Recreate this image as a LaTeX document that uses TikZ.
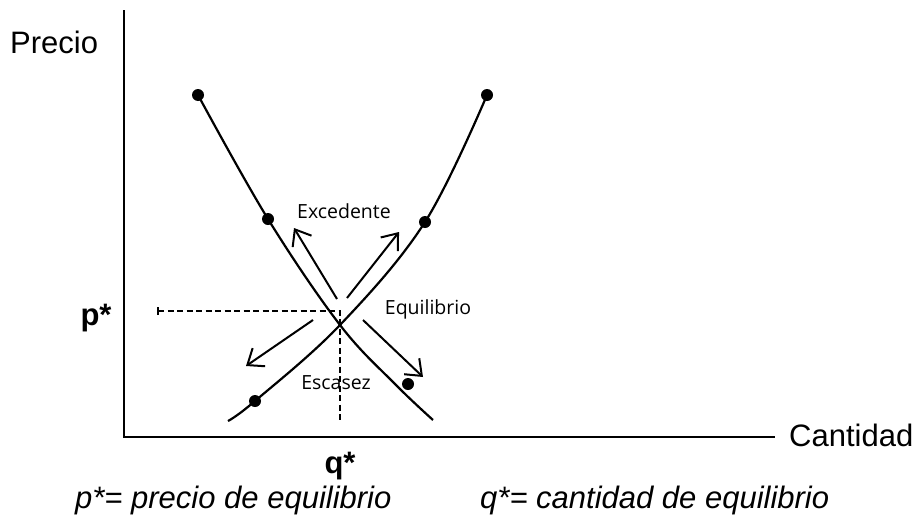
\documentclass[tikz,border=0pt]{standalone}
\usepackage{fontspec}
\setmainfont{Liberation Sans}
\newfontfamily\lblfont{Open Sans}
\usepackage{tikz}
\usetikzlibrary{positioning}
\usetikzlibrary{arrows.meta}

\begin{document}
\begin{tikzpicture}[x=1pt,y=-1pt,
        axislabel/.style={font=\fontsize{31}{36}\selectfont, inner sep=0pt},
        starlabel/.style={font=\fontsize{31}{36}\selectfont\bfseries, inner sep=0pt},
        notelabel/.style={font=\fontsize{31}{36}\selectfont\itshape, inner sep=0pt, anchor=west},
        zonelabel/.style={font=\lblfont\fontsize{19.5}{22}\selectfont, inner sep=1pt},
        dot/.style={circle, fill=black, inner sep=0pt, minimum size=12pt},
        curve/.style={line width=2.2pt},
        moveArrow/.style={line width=2pt, -{Straight Barb[length=14pt,width=22pt,line width=2pt]}},
        guide/.style={line width=1.6pt, dash pattern=on 6pt off 3.5pt},
    ]
        \useasboundingbox (0,0) rectangle (918,525);

        %Nodes
        \coordinate (origin) at (124,437);
        \coordinate (ytop) at (124,10);
        \coordinate (xend) at (775,437);

        \node[axislabel, anchor=west] (precio) at (10,42) {Precio};
        \node[axislabel, anchor=west] (cantidad) at (789,435) {Cantidad};
        \node[starlabel] (pstar) at (96,318) {p*};
        \node[starlabel] (qstar) at (340,466) {q*};

        \node[dot] (d1) at (198,95) {};
        \node[dot] (d2) at (268,219) {};
        \node[dot] (s1) at (487,95) {};
        \node[dot] (s2) at (425,222) {};
        \node[dot] (s3) at (255,401) {};
        \node[dot] (loose) at (408,384) {};
        \coordinate (eq) at (340,325);
        \coordinate (dend) at (433,420);
        \coordinate (send) at (228,421);

        \coordinate (ptick) at (158,311);
        \coordinate (qfoot) at (340,420);

        \node[zonelabel] (excedente) at (344,211) {Excedente};
        \node[zonelabel] (equilibrio) at (428,309) {Equilibrio};
        \node[zonelabel] (escasez) at (336,383) {Escasez};

        \coordinate (a1) at (337,299);
        \coordinate (a1tip) at (294,228);
        \coordinate (a2) at (347,298);
        \coordinate (a2tip) at (399,232);
        \coordinate (a3) at (313,320);
        \coordinate (a3tip) at (246,366);
        \coordinate (a4) at (363,320);
        \coordinate (a4tip) at (423,377);

        \node[notelabel] (pnote) at (75,500) {p*= precio de equilibrio};
        \node[notelabel] (qnote) at (480,500) {q*= cantidad de equilibrio};

        %Lines
        \draw[line width=2pt] (ytop) -- (origin) -- (xend);
        \draw[curve] plot[smooth, tension=0.6] coordinates {(d1.center) (d2.center) (eq) (395,384) (dend)};
        \draw[curve] plot[smooth, tension=0.6] coordinates {(s1.center) (s2.center) (eq) (s3.center) (send)};
        \draw[guide] (ptick) -| (qfoot);
        \draw[line width=1.6pt] ([yshift=-4pt]ptick) -- ([yshift=4pt]ptick);
        \draw[moveArrow] (a1) -- (a1tip);
        \draw[moveArrow] (a2) -- (a2tip);
        \draw[moveArrow] (a3) -- (a3tip);
        \draw[moveArrow] (a4) -- (a4tip);
\end{tikzpicture}
\end{document}
